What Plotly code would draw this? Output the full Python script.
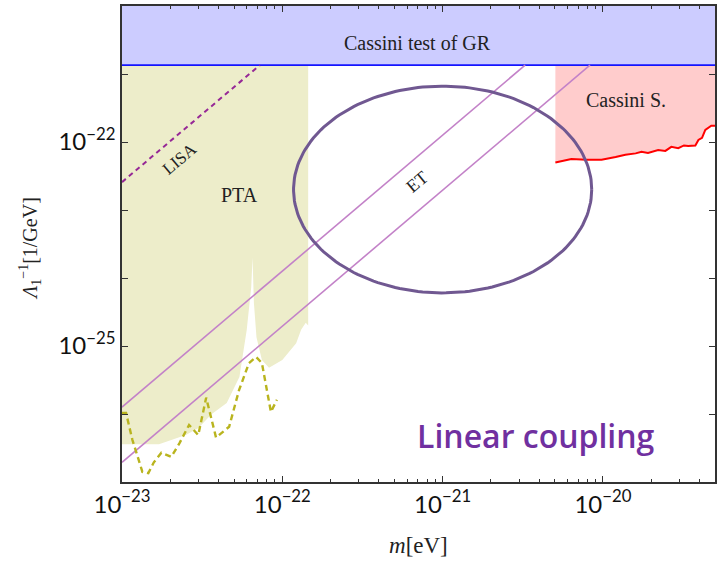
import numpy as np
import plotly.graph_objects as go

# ---------------- data ----------------
x_range_m = [1e-23, 5e-20]
y_range_L = [1e-27, 1e-20]
cassini_gr_bound = 1.35e-21   # lower edge of "Cassini test of GR" band

# PTA excluded-region lower boundary
pta_m = [1.0e-23, 1.7e-23, 2.5e-23, 3.0e-23, 3.6e-23, 4.5e-23, 5.4e-23, 6.0e-23,
         6.4e-23, 6.52e-23, 6.65e-23, 6.9e-23, 7.46e-23, 8.26e-23, 1.0e-22,
         1.22e-22, 1.31e-22, 1.40e-22, 1.45e-22]
pta_L = [3.6e-27, 3.6e-27, 4.9e-27, 6.2e-27, 9.8e-27, 1.45e-26, 3.5e-26, 1.74e-25,
         7.4e-25, 2.0e-24, 4.3e-25, 1.35e-25, 6.2e-26, 4.8e-26, 6.2e-26,
         1.1e-25, 1.74e-25, 2.2e-25, 2.0e-25]

# PTA (future, dashed) sensitivity
pta_fut_m = [1.0e-23, 1.06e-23, 1.16e-23, 1.34e-23, 1.46e-23, 1.58e-23, 1.76e-23,
             2.03e-23, 2.28e-23, 2.62e-23, 2.99e-23, 3.35e-23, 3.86e-23, 4.66e-23,
             5.37e-23, 6.19e-23, 6.86e-23, 7.46e-23, 8.49e-23, 9.25e-23]
pta_fut_L = [1.04e-26, 1.04e-26, 4.2e-27, 1.41e-27, 1.35e-27, 1.95e-27, 2.7e-27,
             2.34e-27, 3.7e-27, 6.9e-27, 4.9e-27, 1.74e-26, 4.5e-27, 6.5e-27,
             2.24e-26, 5.6e-26, 6.9e-26, 5.6e-26, 1.07e-26, 1.62e-26]

# Cassini S. bound
cas_m = [5.05e-21, 6.35e-21, 7.9e-21, 9.8e-21, 1.2e-20, 1.38e-20, 1.6e-20, 1.74e-20,
         1.91e-20, 2.21e-20, 2.45e-20, 2.67e-20, 2.95e-20, 3.2e-20, 3.4e-20, 3.77e-20,
         3.94e-20, 4.15e-20, 4.35e-20, 4.74e-20, 5.0e-20]
cas_L = [5.0e-23, 5.6e-23, 5.5e-23, 5.5e-23, 6.0e-23, 6.5e-23, 6.8e-23, 7.2e-23,
         6.9e-23, 7.6e-23, 7.4e-23, 8.5e-23, 8.1e-23, 8.9e-23, 8.7e-23, 8.9e-23,
         1.07e-22, 1.15e-22, 1.51e-22, 1.74e-22, 1.74e-22]

# straight sensitivity lines (endpoints)
lisa_m = [1e-23, 7.24e-23]
lisa_L = [2.57e-23, 1.35e-21]
et_up_m = [1e-23, 3.27e-21]
et_up_L = [1.26e-26, 1.35e-21]
et_lo_m = [1e-23, 8.3e-21]
et_lo_L = [1.95e-27, 1.35e-21]

# ET ellipse (centre and half-axes in decades)
ell_center_m = 1e-21
ell_center_L = 2.0e-23
ell_half_w_dec = 0.93
ell_half_h_dec = 1.52

x_tick_vals = [1e-23, 1e-22, 1e-21, 1e-20]
x_tick_text = ["10<sup>−23</sup>", "10<sup>−22</sup>", "10<sup>−21</sup>", "10<sup>−20</sup>"]
y_tick_vals = [1e-27, 1e-26, 1e-25, 1e-24, 1e-23, 1e-22, 1e-21, 1e-20]
y_tick_text = ["", "", "10<sup>−25</sup>", "", "", "10<sup>−22</sup>", "", ""]

# ---------------- figure ----------------
serif = "Liberation Serif"
fig = go.Figure()

# PTA filled region
fig.add_trace(go.Scatter(
    x=pta_m + [pta_m[-1], pta_m[0]],
    y=pta_L + [cassini_gr_bound, cassini_gr_bound],
    fill="toself", fillcolor="rgb(237,237,202)", line=dict(width=0),
    mode="lines", hoverinfo="skip"))

# Cassini S. filled region
fig.add_trace(go.Scatter(
    x=cas_m + [cas_m[-1], cas_m[0]],
    y=cas_L + [cassini_gr_bound, cassini_gr_bound],
    fill="toself", fillcolor="rgb(255,204,204)", line=dict(width=0),
    mode="lines", hoverinfo="skip"))
fig.add_trace(go.Scatter(x=cas_m, y=cas_L, mode="lines",
                         line=dict(color="rgb(255,0,0)", width=2)))

# Cassini test of GR band
fig.add_trace(go.Scatter(
    x=[x_range_m[0], x_range_m[1], x_range_m[1], x_range_m[0]],
    y=[cassini_gr_bound, cassini_gr_bound, y_range_L[1], y_range_L[1]],
    fill="toself", fillcolor="rgb(204,204,255)", line=dict(width=0),
    mode="lines", hoverinfo="skip"))
fig.add_trace(go.Scatter(x=x_range_m, y=[cassini_gr_bound, cassini_gr_bound],
                         mode="lines", line=dict(color="rgb(20,20,255)", width=1.8)))

# ET lines
fig.add_trace(go.Scatter(x=et_up_m, y=et_up_L, mode="lines",
                         line=dict(color="rgb(195,130,200)", width=1.6)))
fig.add_trace(go.Scatter(x=et_lo_m, y=et_lo_L, mode="lines",
                         line=dict(color="rgb(195,130,200)", width=1.6)))

# LISA dashed line
fig.add_trace(go.Scatter(x=lisa_m, y=lisa_L, mode="lines",
                         line=dict(color="rgb(150,40,150)", width=2, dash="5px,4px")))

# PTA future dashed curve
fig.add_trace(go.Scatter(x=pta_fut_m, y=pta_fut_L, mode="lines",
                         line=dict(color="rgb(185,180,30)", width=2.4, dash="6px,4px")))

# ET ellipse
t = np.linspace(0, 2 * np.pi, 200)
ell_x = 10 ** (np.log10(ell_center_m) + ell_half_w_dec * np.cos(t))
ell_y = 10 ** (np.log10(ell_center_L) + ell_half_h_dec * np.sin(t))
fig.add_trace(go.Scatter(x=ell_x, y=ell_y, mode="lines",
                         line=dict(color="rgb(112,88,145)", width=3)))

lg = np.log10
ann = [
    dict(x=lg(0.7e-21), y=lg(2.9e-21), text="Cassini test of GR", size=20),
    dict(x=lg(1.4e-20), y=lg(4.2e-22), text="Cassini S.", size=20),
    dict(x=lg(5.4e-23), y=lg(1.66e-23), text="PTA", size=20),
]
for a in ann:
    fig.add_annotation(x=a["x"], y=a["y"], xref="x", yref="y", text=a["text"],
                       showarrow=False, font=dict(family=serif, size=a["size"], color="#222"))
fig.add_annotation(x=lg(2.3e-23), y=lg(5.8e-23), text="LISA", textangle=-40,
                   showarrow=False, font=dict(family=serif, size=17, color="#222"))
fig.add_annotation(x=lg(6.9e-22), y=lg(2.6e-23), text="ET", textangle=-40,
                   showarrow=False, font=dict(family=serif, size=18, color="#222"))
fig.add_annotation(x=lg(3.8e-21), y=lg(4.9e-27), text="Linear coupling",
                   showarrow=False,
                   font=dict(family="Open Sans", size=32, weight=600, color="rgb(112,48,160)"))

# axis titles
fig.add_annotation(x=-0.155, y=0.49, xref="paper", yref="paper", textangle=-90,
                   xanchor="center", yanchor="middle",
                   text="<i>Λ</i><sub>1</sub><sup>−1</sup>[1/GeV]", showarrow=False,
                   font=dict(family=serif, size=20, color="#222"))
fig.add_annotation(x=0.5, y=-0.133, xref="paper", yref="paper",
                   xanchor="center", yanchor="middle",
                   text="<i>m</i>[eV]", showarrow=False,
                   font=dict(family=serif, size=23, color="#222"))

axis_common = dict(type="log", showgrid=False, zeroline=False, showline=True,
                   linecolor="#333", linewidth=1.5, mirror="ticks", ticks="inside",
                   tickcolor="#333", tickwidth=1, ticklen=6,
                   tickfont=dict(family="Lato", size=24, color="#111"))

fig.update_layout(
    width=720, height=561,
    margin=dict(l=122, r=3, t=6, b=79),
    paper_bgcolor="white", plot_bgcolor="white",
    showlegend=False,
    xaxis=dict(range=[lg(x_range_m[0]), lg(x_range_m[1])],
               tickvals=x_tick_vals, ticktext=x_tick_text,
               minor=dict(ticks="inside", ticklen=3, tickcolor="#333",
                          tickvals=[k * 10.0 ** e for e in range(-23, -19) for k in range(2, 10)]),
               **axis_common),
    yaxis=dict(range=[lg(y_range_L[0]), lg(y_range_L[1])],
               tickvals=y_tick_vals, ticktext=y_tick_text, **axis_common),
)

fig.write_html("out.html")
